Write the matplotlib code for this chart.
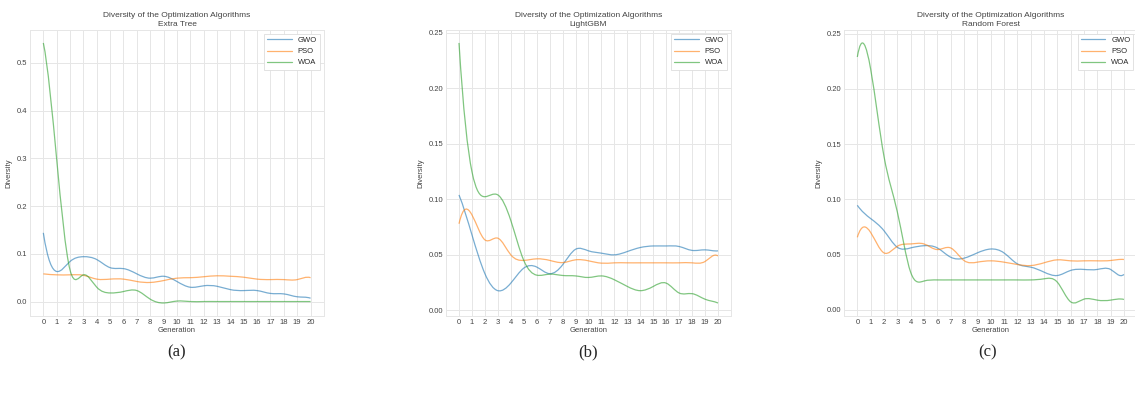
import numpy as np
import matplotlib
matplotlib.use("Agg")
import matplotlib.pyplot as plt
from matplotlib.path import Path
from matplotlib.patches import PathPatch

# generations 0..20
generations = list(range(21))

# (a) Extra Tree
et_gwo = [0.144, 0.063, 0.084, 0.094, 0.088, 0.071, 0.069, 0.058, 0.049, 0.053, 0.042,
          0.030, 0.033, 0.032, 0.025, 0.023, 0.023, 0.017, 0.016, 0.010, 0.007]
et_pso = [0.058, 0.056, 0.056, 0.055, 0.047, 0.047, 0.047, 0.042, 0.040, 0.044, 0.049,
          0.050, 0.052, 0.054, 0.053, 0.051, 0.047, 0.046, 0.046, 0.046, 0.050]
et_woa = [0.542, 0.298, 0.066, 0.056, 0.030, 0.018, 0.021, 0.023, 0.005, -0.003, 0.001,
          0.0, 0.0, 0.0, 0.0, 0.0, 0.0, 0.0, 0.0, 0.0, 0.0]

# (b) LightGBM
lg_gwo = [0.104, 0.068, 0.033, 0.0177, 0.0245, 0.038, 0.039, 0.033, 0.041, 0.055, 0.0536,
          0.0515, 0.050, 0.053, 0.0566, 0.058, 0.058, 0.0575, 0.054, 0.0545, 0.0536]
lg_pso = [0.078, 0.086, 0.0635, 0.065, 0.050, 0.045, 0.0464, 0.045, 0.043, 0.0455, 0.0446,
          0.0425, 0.0428, 0.0428, 0.0428, 0.0428, 0.0428, 0.0428, 0.0428, 0.044, 0.049]
lg_woa = [0.241, 0.125, 0.1024, 0.104, 0.081, 0.045, 0.0317, 0.0326, 0.0314, 0.031, 0.0296,
          0.031, 0.0275, 0.0215, 0.0177, 0.0215, 0.0245, 0.0156, 0.015, 0.010, 0.0066]

# (c) Random Forest
rf_gwo = [0.0946, 0.0826, 0.0716, 0.0566, 0.056, 0.058, 0.056, 0.0476, 0.0467, 0.0515, 0.055,
          0.0515, 0.0416, 0.0386, 0.0341, 0.031, 0.0356, 0.0365, 0.0365, 0.0365, 0.032]
rf_pso = [0.0656, 0.070, 0.0515, 0.0575, 0.0596, 0.0596, 0.0545, 0.056, 0.0446, 0.0431, 0.0443,
          0.0431, 0.041, 0.040, 0.0425, 0.0452, 0.0443, 0.0443, 0.0443, 0.0446, 0.0455]
rf_woa = [0.229, 0.218, 0.139, 0.0887, 0.034, 0.026, 0.027, 0.027, 0.027, 0.027, 0.027,
          0.027, 0.027, 0.027, 0.028, 0.025, 0.0072, 0.0096, 0.0087, 0.0087, 0.0093]

models = ["Extra Tree", "LightGBM", "Random Forest"]
captions = ["(a)", "(b)", "(c)"]
algos = ["GWO", "PSO", "WOA"]
colors = ["#1f77b4", "#ff7f0e", "#2ca02c"]


def spline_slopes(x, y):
  # slopes of a not-a-knot cubic spline through the points
  x = np.asarray(x, float)
  y = np.asarray(y, float)
  n = len(x)
  h = np.diff(x)
  d = np.diff(y) / h
  A = np.zeros((n, n))
  b = np.zeros(n)
  for i in range(1, n - 1):
    A[i, i - 1] = h[i]
    A[i, i] = 2 * (h[i - 1] + h[i])
    A[i, i + 1] = h[i - 1]
    b[i] = 3 * (h[i] * d[i - 1] + h[i - 1] * d[i])
  # not-a-knot (uniform spacing): third derivative continuous at x1 and x(n-2)
  A[0, 0], A[0, 2] = 1, -1
  b[0] = 2 * (d[0] - d[1])
  A[-1, -1], A[-1, -3] = 1, -1
  b[-1] = -2 * (d[-1] - d[-2])
  return np.linalg.solve(A, b)


def smooth_path(x, y):
  # cubic bezier segments following the spline through the data points
  m = spline_slopes(x, y)
  verts = [(x[0], y[0])]
  codes = [Path.MOVETO]
  for i in range(len(x) - 1):
    hh = x[i + 1] - x[i]
    verts += [(x[i] + hh / 3, y[i] + m[i] * hh / 3),
              (x[i + 1] - hh / 3, y[i + 1] - m[i + 1] * hh / 3),
              (x[i + 1], y[i + 1])]
    codes += [Path.CURVE4] * 3
  return Path(verts, codes)


plt.style.use("seaborn-v0_8-whitegrid")
plt.rcParams["font.family"] = ["Liberation Sans", "DejaVu Sans"]
fig = plt.figure(figsize=(11.35, 3.94), dpi=100)

positions = [[0.0264, 0.198, 0.259, 0.726],
             [0.393, 0.198, 0.251, 0.726],
             [0.7436, 0.198, 0.2584, 0.726]]
data = [[et_gwo, et_pso, et_woa], [lg_gwo, lg_pso, lg_woa], [rf_gwo, rf_pso, rf_woa]]

for k in range(3):
  ax = fig.add_axes(positions[k])
  for series, name, c in zip(data[k], algos, colors):
    patch = PathPatch(smooth_path(generations, series), facecolor="none",
                      edgecolor=c, lw=0.9, alpha=0.6)
    ax.add_patch(patch)
    # invisible line for autoscaling and the legend
    ax.plot(generations, series, color=c, lw=0.9, alpha=0.0)
    ax.plot([], [], color=c, lw=0.9, alpha=0.6, label=name)
  ax.set_xticks(generations)
  ax.tick_params(labelsize=5.5, colors="#444444", pad=2)
  ax.set_xlabel("Generation", fontsize=5.5, color="#444444", labelpad=1)
  ax.set_ylabel("Diversity", fontsize=5.5, color="#444444", labelpad=3)
  ax.set_title("Diversity of the Optimization Algorithms\n" + models[k],
               fontsize=6, color="#444444", pad=3, linespacing=1.3)
  ax.grid(color="#e6e6e6", lw=0.7)
  for s in ax.spines.values():
    s.set_color("#e6e6e6")
    s.set_linewidth(0.7)
  leg = ax.legend(loc="upper right", fontsize=5.5, frameon=True, framealpha=1,
                  edgecolor="#dddddd", fancybox=False, handlelength=3.2)
  leg.get_frame().set_linewidth(0.6)
  fig.text(positions[k][0] + positions[k][2] / 2 + (0.0 if k < 2 else -0.003), 0.105,
           captions[k], ha="center", va="center", fontsize=12,
           family="Liberation Serif")

fig.savefig("out.png", dpi=100)
